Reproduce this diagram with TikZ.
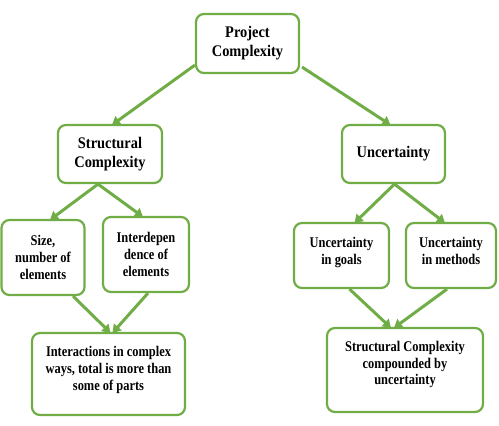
\documentclass[tikz,border=0pt]{standalone}
\usepackage{fontspec}
\setmainfont{Liberation Serif}
\newfontfamily\topfont[FakeStretch=0.89]{Liberation Serif}
\newfontfamily\lowfont[FakeStretch=0.84]{Liberation Serif}
\usetikzlibrary{arrows.meta,calc}
\definecolor{grn}{RGB}{112,173,71}
\tikzset{
  box/.style={draw=grn, line width=2.2pt, rounded corners=8pt, fill=white, align=center, inner sep=2pt},
  top/.style={box, font=\topfont\fontsize{16.2}{19}\selectfont\bfseries},
  low/.style={box, font=\lowfont\fontsize{14.8}{16.8}\selectfont\bfseries},
  arr/.style={draw=grn, line width=3pt, -{Triangle[width=10pt,length=8pt]}}
}
\begin{document}
\begin{tikzpicture}[x=1pt,y=-1pt]
\useasboundingbox (0,0) rectangle (499,426);
\node[top, minimum width=103pt, minimum height=59pt] (pc) at (247.5,43.5) {Project\\Complexity};
\node[top, minimum width=104pt, minimum height=58pt] (sc) at (110,154) {Structural\\Complexity};
\node[top, minimum width=103pt, minimum height=58pt] (ud) at (393.5,154) {Uncertainty};
\node[low, minimum width=83pt, minimum height=75pt] (sz) at (43,257.5) {Size,\\number of\\elements};
\node[low, minimum width=86pt, minimum height=75pt] (id) at (146,254.5) {Interdepen\\dence of\\elements};
\node[low, minimum width=153pt, minimum height=82pt, text depth=11pt] (ia) at (108.5,374) {Interactions in complex\\ways, total is more than\\some of parts};
\node[low, minimum width=95pt, minimum height=65pt, text depth=10pt] (ug) at (341.5,255.5) {Uncertainty\\in goals};
\node[low, minimum width=90pt, minimum height=65pt, text depth=10pt] (um) at (451,255.5) {Uncertainty\\in methods};
\node[low, minimum width=156pt, minimum height=84pt, text depth=14pt] (cu) at (405,370) {Structural Complexity\\compounded by\\uncertainty};
\draw[arr] ($(pc.south west)+(0,-9)$) -- ($(sc.north)+(2,1)$);
\draw[arr] ($(pc.south east)+(2,-7)$) -- ($(ud.north)+(-3,1)$);
\draw[arr] ($(sc.south)+(-12,0)$) -- ($(sz.north)+(7,1)$);
\draw[arr] ($(sc.south)+(-12,0)$) -- ($(id.north)+(-3,1)$);
\draw[arr] ($(ud.south)+(1,0)$) -- ($(ug.north)+(13,1)$);
\draw[arr] ($(ud.south)+(1,0)$) -- ($(um.north)+(-6,1)$);
\draw[arr] ($(sz.south)+(30,0)$) -- ($(ia.north)+(2,1)$);
\draw[arr] ($(id.south)+(2,0)$) -- ($(ia.north)+(4,1)$);
\draw[arr] ($(ug.south)+(8,0)$) -- ($(cu.north)+(-14,1)$);
\draw[arr] ($(um.south)+(-4,0)$) -- ($(cu.north)+(-11,1)$);
\end{tikzpicture}
\end{document}
